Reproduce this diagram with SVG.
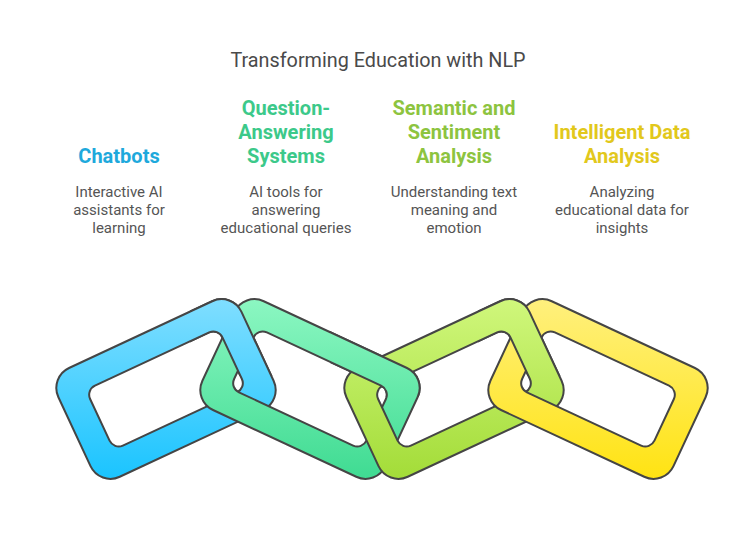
<svg xmlns="http://www.w3.org/2000/svg" xmlns:xlink="http://www.w3.org/1999/xlink" width="756" height="553" viewBox="0 0 756 553">
<style>
.title{font-family:Roboto,"Liberation Sans",sans-serif;font-size:19.8px;fill:#4a4a4a;text-anchor:middle}
.head{font-family:Roboto,"Liberation Sans",sans-serif;font-size:20px;font-weight:700;text-anchor:middle}
.desc{font-family:Roboto,"Liberation Sans",sans-serif;font-size:15px;fill:#555555;text-anchor:middle}
.ring{stroke:#454545;stroke-width:2;stroke-linejoin:round;fill-rule:evenodd}
</style>
<defs>
<path id="ring" d="M-79,-60H79A22,22 0 0 1 101,-38V38A22,22 0 0 1 79,60H-79A22,22 0 0 1 -101,38V-38A22,22 0 0 1 -79,-60Z M-63,-33H63A10,10 0 0 1 73,-23V23A10,10 0 0 1 63,33H-63A10,10 0 0 1 -73,23V-23A10,10 0 0 1 -63,-33Z"/>
<linearGradient id="gBlue" gradientUnits="userSpaceOnUse" x1="38" y1="-82" x2="-38" y2="82">
<stop offset="0" stop-color="#80DEFF"/><stop offset="1" stop-color="#1AC4FF"/>
</linearGradient>
<linearGradient id="gGreen" gradientUnits="userSpaceOnUse" x1="-38" y1="-82" x2="38" y2="82">
<stop offset="0" stop-color="#8CF7C2"/><stop offset="1" stop-color="#3FDB92"/>
</linearGradient>
<linearGradient id="gLime" gradientUnits="userSpaceOnUse" x1="38" y1="-82" x2="-38" y2="82">
<stop offset="0" stop-color="#D0F77C"/><stop offset="1" stop-color="#A3DC38"/>
</linearGradient>
<linearGradient id="gYellow" gradientUnits="userSpaceOnUse" x1="-38" y1="-82" x2="38" y2="82">
<stop offset="0" stop-color="#FFF07E"/><stop offset="1" stop-color="#FFE312"/>
</linearGradient>
<clipPath id="clipBG"><rect x="190" y="280" width="100" height="96"/></clipPath>
<clipPath id="clipGL"><rect x="330" y="300" width="110" height="97"/></clipPath>
<clipPath id="clipLY"><rect x="478" y="280" width="100" height="96"/></clipPath>
</defs>
<rect width="756" height="553" fill="#ffffff"/>
<text class="title" x="378" y="67">Transforming Education with NLP</text>

<g id="chatbots">
<text class="head" x="119" y="163" fill="#1EA9DC">Chatbots</text>
<text class="desc" x="119" y="197">Interactive AI</text>
<text class="desc" x="119" y="215">assistants for</text>
<text class="desc" x="119" y="233">learning</text>
<g id="link-chatbots" transform="translate(166,389) rotate(-25)"><use xlink:href="#ring" class="ring" fill="url(#gBlue)"/></g>
</g>

<g id="question-answering">
<text class="head" x="286" y="115" fill="#3CC98A">Question-</text>
<text class="head" x="286" y="139" fill="#3CC98A">Answering</text>
<text class="head" x="286" y="163" fill="#3CC98A">Systems</text>
<text class="desc" x="286" y="197">AI tools for</text>
<text class="desc" x="286" y="215">answering</text>
<text class="desc" x="286" y="233">educational queries</text>
<g id="link-qa" transform="translate(310,389) rotate(25)"><use xlink:href="#ring" class="ring" fill="url(#gGreen)"/></g>
</g>

<g id="semantic">
<text class="head" x="454" y="115" fill="#8DC43F">Semantic and</text>
<text class="head" x="454" y="139" fill="#8DC43F">Sentiment</text>
<text class="head" x="454" y="163" fill="#8DC43F">Analysis</text>
<text class="desc" x="454" y="197">Understanding text</text>
<text class="desc" x="454" y="215">meaning and</text>
<text class="desc" x="454" y="233">emotion</text>
<g id="link-semantic" transform="translate(454,389) rotate(-25)"><use xlink:href="#ring" class="ring" fill="url(#gLime)"/></g>
</g>

<g id="data-analysis">
<text class="head" x="622" y="139" fill="#E2C81C">Intelligent Data</text>
<text class="head" x="622" y="163" fill="#E2C81C">Analysis</text>
<text class="desc" x="622" y="197">Analyzing</text>
<text class="desc" x="622" y="215">educational data for</text>
<text class="desc" x="622" y="233">insights</text>
<g id="link-data" transform="translate(598,389) rotate(25)"><use xlink:href="#ring" class="ring" fill="url(#gYellow)"/></g>
</g>

<g id="connectors">
<g clip-path="url(#clipBG)"><g transform="translate(166,389) rotate(-25)"><use xlink:href="#ring" class="ring" fill="url(#gBlue)"/></g></g>
<g clip-path="url(#clipGL)"><g transform="translate(310,389) rotate(25)"><use xlink:href="#ring" class="ring" fill="url(#gGreen)"/></g></g>
<g clip-path="url(#clipLY)"><g transform="translate(454,389) rotate(-25)"><use xlink:href="#ring" class="ring" fill="url(#gLime)"/></g></g>
</g>
</svg>
